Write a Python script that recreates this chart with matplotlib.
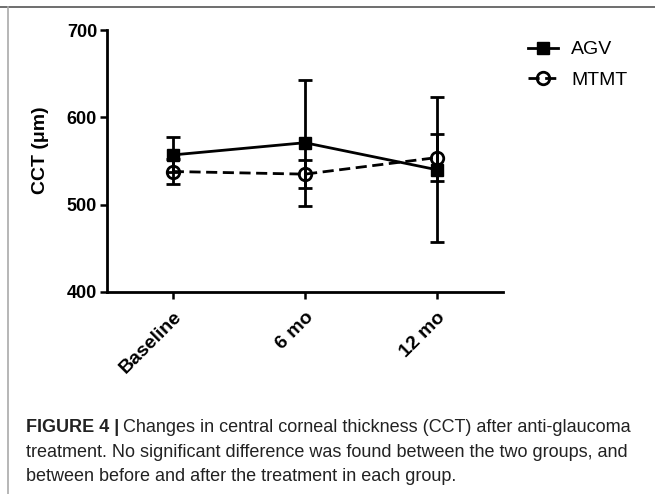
import matplotlib
matplotlib.use('Agg')
import matplotlib.pyplot as plt
from matplotlib.lines import Line2D

# data
timepoints = ['Baseline', '6 mo', '12 mo']
agv_mean = [557, 571, 540]
agv_sd = [20, 72, 83]
mtmt_mean = [538, 535, 554]
mtmt_sd = [14, 16, 27]

plt.rcParams['font.family'] = ['Liberation Sans', 'DejaVu Sans']

fig = plt.figure(figsize=(6.55, 4.94), dpi=100)
ax = fig.add_axes([0.163, 0.409, 0.605, 0.530])

lw = 2.0
dash = (0, (4, 2))
x = list(range(len(timepoints)))
ax.errorbar(x, agv_mean, yerr=agv_sd, color='black', lw=lw, marker='s',
            ms=8, capsize=5, capthick=lw, elinewidth=lw, label='AGV', zorder=3)
ax.errorbar(x, mtmt_mean, yerr=mtmt_sd, color='black', lw=lw, ls=dash,
            marker='o', ms=9, mfc='none', mew=2.0, capsize=5, capthick=lw,
            elinewidth=lw, label='MTMT', zorder=3)

ax.set_xlim(-0.5, 2.5)
ax.set_ylim(400, 700)
ax.set_yticks([400, 500, 600, 700])
ax.set_xticks(x)
ax.set_xticklabels(timepoints, rotation=45, ha='right', rotation_mode='anchor',
                   fontweight='bold', fontsize=14)
for lab in ax.get_yticklabels():
    lab.set_fontweight('bold')
    lab.set_fontsize(13)
ax.spines['top'].set_visible(False)
ax.spines['right'].set_visible(False)
for s in ['left', 'bottom']:
    ax.spines[s].set_linewidth(2.0)
ax.tick_params(width=1.8, length=5, pad=2)
ax.tick_params(axis='x', pad=7)
ax.set_ylabel('CCT (\u03bcm)', fontweight='bold', fontsize=14)
ax.yaxis.set_label_coords(-0.147, 0.54)

handles = [
    Line2D([], [], color='black', lw=lw, marker='s', ms=8),
    Line2D([], [], color='black', lw=lw, ls=dash, marker='o', ms=9,
           mfc='none', mew=2.0),
]
fig.legend(handles, ['AGV', 'MTMT'], loc='upper left',
           bbox_to_anchor=(0.78, 0.953), frameon=False, fontsize=14,
           handlelength=1.5, handletextpad=0.7, labelspacing=0.65)

# frame lines of the figure panel
fig.add_artist(Line2D([0, 1], [1 - 7 / 494, 1 - 7 / 494], color='#555555', lw=1.2))
fig.add_artist(Line2D([8 / 655, 8 / 655], [0, 1 - 7 / 494], color='#aaaaaa', lw=1.2))

# caption
cap_size = 13
cap_color = '#222222'
rows_y = [428, 452, 476]
bold = fig.text(26 / 655, 1 - rows_y[0] / 494, 'FIGURE 4 |', fontsize=cap_size,
                fontweight='bold', va='center', color=cap_color)
renderer = fig.canvas.get_renderer()
bb = bold.get_window_extent(renderer)
fig.text((bb.x1 + 4) / 655, 1 - rows_y[0] / 494,
         'Changes in central corneal thickness (CCT) after anti-glaucoma',
         fontsize=cap_size, va='center', color=cap_color)
fig.text(26 / 655, 1 - rows_y[1] / 494,
         'treatment. No significant difference was found between the two groups, and',
         fontsize=cap_size, va='center', color=cap_color)
fig.text(26 / 655, 1 - rows_y[2] / 494,
         'between before and after the treatment in each group.',
         fontsize=cap_size, va='center', color=cap_color)

fig.savefig('out.png', dpi=100)
